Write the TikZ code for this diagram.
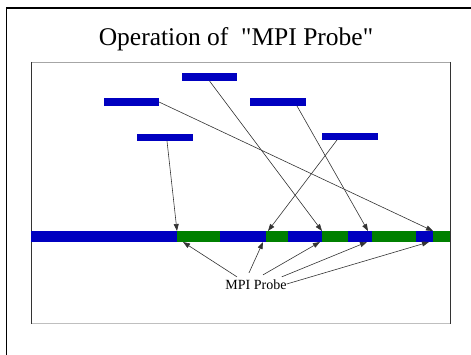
\documentclass[tikz,border=0pt]{standalone}
\usepackage{fontspec}
\setmainfont{Liberation Serif}
\usetikzlibrary{arrows.meta,positioning}

\definecolor{barblue}{RGB}{0,0,192}
\definecolor{probegreen}{RGB}{0,128,0}

\begin{document}
\begin{tikzpicture}[x=1pt, y=-1pt,
    msg/.style={fill=barblue, draw=none, anchor=north west, inner sep=0pt, outer sep=0pt, minimum width=56pt, minimum height=8pt},
    seg/.style={draw=none, anchor=north west, inner sep=0pt, outer sep=0pt, minimum height=11pt},
    work/.style={seg, fill=barblue},
    probe/.style={seg, fill=probegreen},
    link/.style={-{Triangle[length=7pt,width=5pt]}, black!80, line width=0.6pt}]
        \useasboundingbox (0,0) rectangle (471,355);

        % Frames
        \draw[line width=1.3pt] (6.5,355) -- (6.5,8) -- (471,8);
        \draw[gray!70] (31.5,62) -- (450,62);
        \draw[gray!50, line width=1pt] (31.5,323.5) -- (450,323.5);
        \draw[black!80] (31.5,62) -- (31.5,323.5);
        \draw[black!80] (450,62) -- (450,323.5);

        % Title
        \node[font=\fontsize{25.5}{30}\selectfont] (title) at (236,39) {Operation of \ \textquotedbl MPI Probe\textquotedbl};

        % Messages
        \node[msg, minimum width=55pt] (m1) at (182,73) {};
        \node[msg, minimum width=55pt] (m2) at (104,98) {};
        \node[msg] (m3) at (250,98) {};
        \node[msg, minimum height=7pt] (m4) at (137,134) {};
        \node[msg, minimum height=7pt] (m5) at (322,133) {};

        % Time line
        \node[work, minimum width=146pt] (s1) at (31,231) {};
        \node[probe, minimum width=43pt] (s2) at (177,231) {};
        \node[work, minimum width=46pt] (s3) at (220,231) {};
        \node[probe, minimum width=22pt] (s4) at (266,231) {};
        \node[work, minimum width=34pt] (s5) at (288,231) {};
        \node[probe, minimum width=26pt] (s6) at (322,231) {};
        \node[work, minimum width=24pt] (s7) at (348,231) {};
        \node[probe, minimum width=44pt] (s8) at (372,231) {};
        \node[work, minimum width=17pt] (s9) at (416,231) {};
        \node[probe, minimum width=17pt] (s10) at (433,231) {};

        % Arrivals
        \draw[link] ([xshift=2pt]m4.south) -- (s2.north west);
        \draw[link] (m2.east) -- (s10.north west);
        \draw[link] (m1.south) -- (s6.north west);
        \draw[link] ([xshift=-9pt]m3.south east) -- ([xshift=-4pt]s8.north west);
        \draw[link] ([xshift=15pt]m5.south west) -- ([xshift=2pt]s4.north west);

        % Label
        \node[font=\fontsize{14}{16}\selectfont, inner sep=0pt] (lbl) at (256,285) {MPI Probe};
        \draw[link] ([xshift=-19pt,yshift=3pt]lbl.north) -- ([xshift=6pt]s2.south west);
        \draw[link] ([xshift=-7pt,yshift=7pt]lbl.north) -- ([xshift=-3pt]s3.south east);
        \draw[link] ([xshift=7pt,yshift=5pt]lbl.north) -- ([xshift=-2pt]s5.south east);
        \draw[link] ([xshift=-5pt,yshift=3pt]lbl.north east) -- ([xshift=-5pt]s7.south east);
        \draw[link] ([yshift=1pt]lbl.east) -- ([xshift=-4pt]s9.south east);
\end{tikzpicture}
\end{document}
